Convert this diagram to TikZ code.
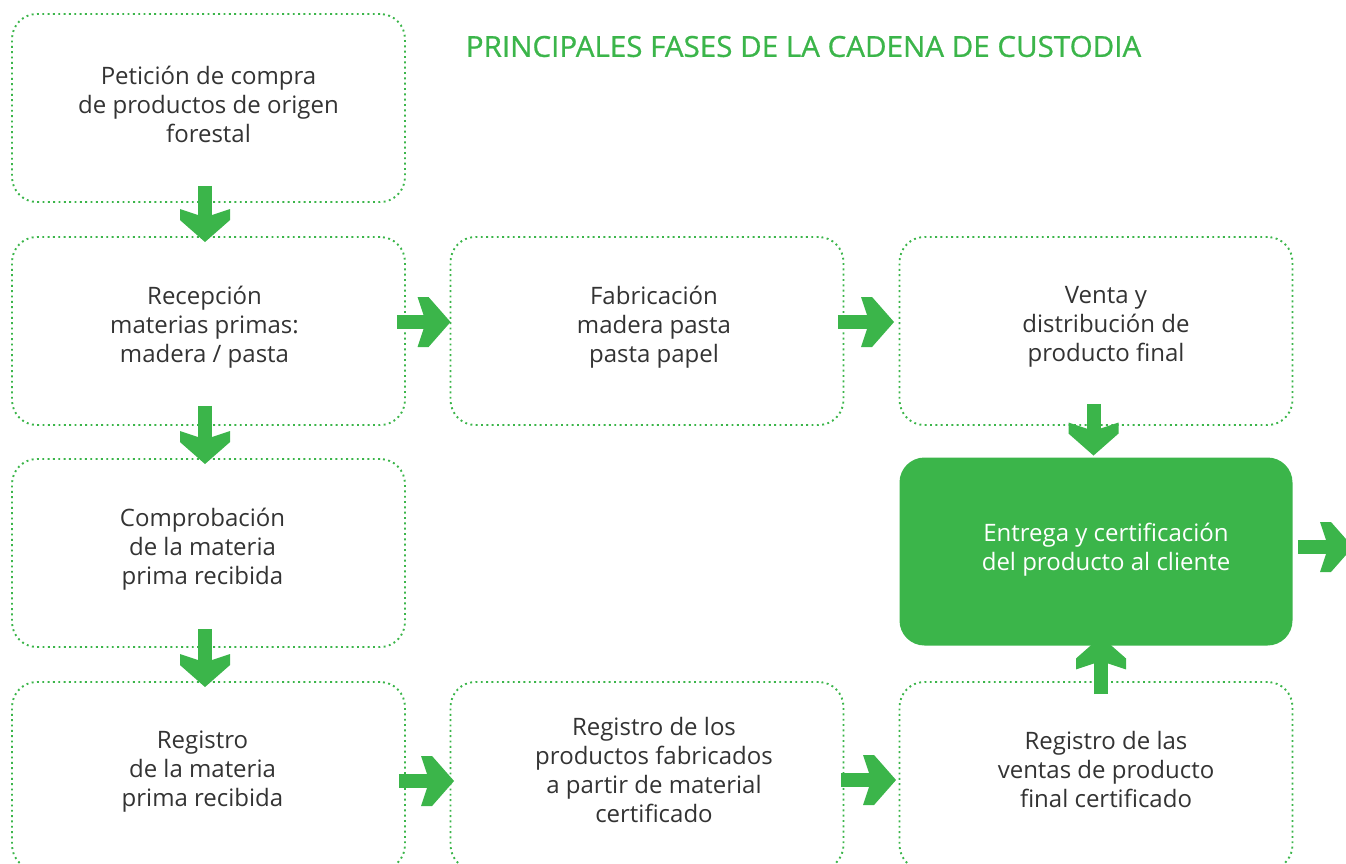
\documentclass[tikz,border=0pt]{standalone}
\usepackage{fontspec}
\setmainfont{Open Sans}
\newfontfamily\titulofont{Open Sans}[FakeBold=0.8]
\usetikzlibrary{positioning,calc,arrows.meta}
\usepackage{xcolor}
\definecolor{verde}{HTML}{3BB54A}
\definecolor{texto}{HTML}{333333}
% block arrow head with flat-topped wings
\pgfdeclarearrow{
  name = Bloque,
  setup code = {
    \pgfarrowssettipend{0pt}
    \pgfarrowssetlineend{-20pt}
    \pgfarrowssetbackend{-33pt}
    \pgfarrowshullpoint{0pt}{0pt}
    \pgfarrowshullpoint{-33pt}{25pt}
    \pgfarrowshullpoint{-33pt}{-25pt}
  },
  drawing code = {
    \pgfpathmoveto{\pgfpoint{0pt}{0pt}}
    \pgfpathlineto{\pgfpoint{-22pt}{25pt}}
    \pgfpathlineto{\pgfpoint{-33pt}{25pt}}
    \pgfpathlineto{\pgfpoint{-27pt}{7pt}}
    \pgfpathlineto{\pgfpoint{-27pt}{-7pt}}
    \pgfpathlineto{\pgfpoint{-33pt}{-25pt}}
    \pgfpathlineto{\pgfpoint{-22pt}{-25pt}}
    \pgfpathclose
    \pgfusepathqfill
  }
}
\tikzset{
  fase/.style={draw=verde,line width=1.9pt,dash pattern=on 1.9pt off 3.43pt,
    rounded corners=25pt,minimum width=393pt,minimum height=188pt,inner sep=0pt},
  fasetexto/.style={align=center,text=texto,font=\fontsize{24}{29}\selectfont,
    inner sep=0pt,yshift=4pt},
  entrega/.style={fase,draw=none,fill=verde},
  flecha/.style={draw=verde,line width=14pt,-{Bloque}},
}
\begin{document}
\begin{tikzpicture}[x=1pt,y=-1pt]
  \useasboundingbox (0,0) rectangle (1346,863);
  \node[text=verde,font=\titulofont\fontsize{29}{29}\selectfont,xscale=1.02,transform shape]
        (titulo) at (803.5,46.5) {PRINCIPALES FASES DE LA CADENA DE CUSTODIA};
  % boxes
  \node[fase,label={[fasetexto]center:{Petición de compra\\de productos de origen\\forestal}}]
        (b1) at (208.5,108) {};
  \node[fase,label={[fasetexto,xshift=-4pt]center:{Recepción\\materias primas:\\madera / pasta}}]
        (b2) at (208.5,331) {};
  \node[fase,label={[fasetexto,xshift=7pt]center:{Fabricación\\madera pasta\\pasta papel}}]
        (b3) at (647,331) {};
  \node[fase,label={[fasetexto,xshift=10pt]center:{Venta y\\distribución de\\producto final}}]
        (b4) at (1096,331) {};
  \node[fase,label={[fasetexto,xshift=-6pt]center:{Comprobación\\de la materia\\prima recibida}}]
        (b5) at (208.5,553) {};
  \node[entrega,label={[fasetexto,text=white,xshift=10pt,yshift=-2pt]center:{Entrega y certificación\\del producto al cliente}}]
        (b6) at (1096,551.5) {};
  \node[fase,label={[fasetexto,xshift=-6pt]center:{Registro\\de la materia\\prima recibida}}]
        (b7) at (208.5,776) {};
  \node[fase,label={[fasetexto,xshift=7pt,yshift=2pt]center:{Registro de los\\productos fabricados\\a partir de material\\certificado}}]
        (b8) at (647,776) {};
  \node[fase,label={[fasetexto,xshift=10pt,yshift=3pt]center:{Registro de las\\ventas de producto\\final certificado}}]
        (b9) at (1096,776) {};
  \coordinate (salida) at (1353,547);
  % arrows
  \draw[flecha] ($(b1.south)+(-3.5,-17)$) -- ($(b2.north)+(-3.5,6)$);
  \draw[flecha] ($(b2.east)+(-9,-9)$) -- ($(b3.west)+(1,-9)$);
  \draw[flecha] ($(b3.east)+(-6.5,-9)$) -- ($(b4.west)+(-4.5,-9)$);
  \draw[flecha] ($(b2.south)+(-3.5,-20)$) -- ($(b5.north)+(-3.5,6)$);
  \draw[flecha] ($(b4.south)+(-2.5,-22)$) -- ($(b6.north)+(-2.5,-1)$);
  \draw[flecha] ($(b6.east)+(4.5,-4.5)$) -- (salida);
  \draw[flecha] ($(b5.south)+(-3.5,-19)$) -- ($(b7.north)+(-3.5,6)$);
  \draw[flecha] ($(b7.east)+(-7,5)$) -- ($(b8.west)+(4.5,5)$);
  \draw[flecha] ($(b8.east)+(-3.5,4)$) -- ($(b9.west)+(-2.5,4)$);
  \draw[flecha] ($(b9.north)+(5,13)$) -- ($(b6.south)+(5,-10)$);
\end{tikzpicture}
\end{document}
